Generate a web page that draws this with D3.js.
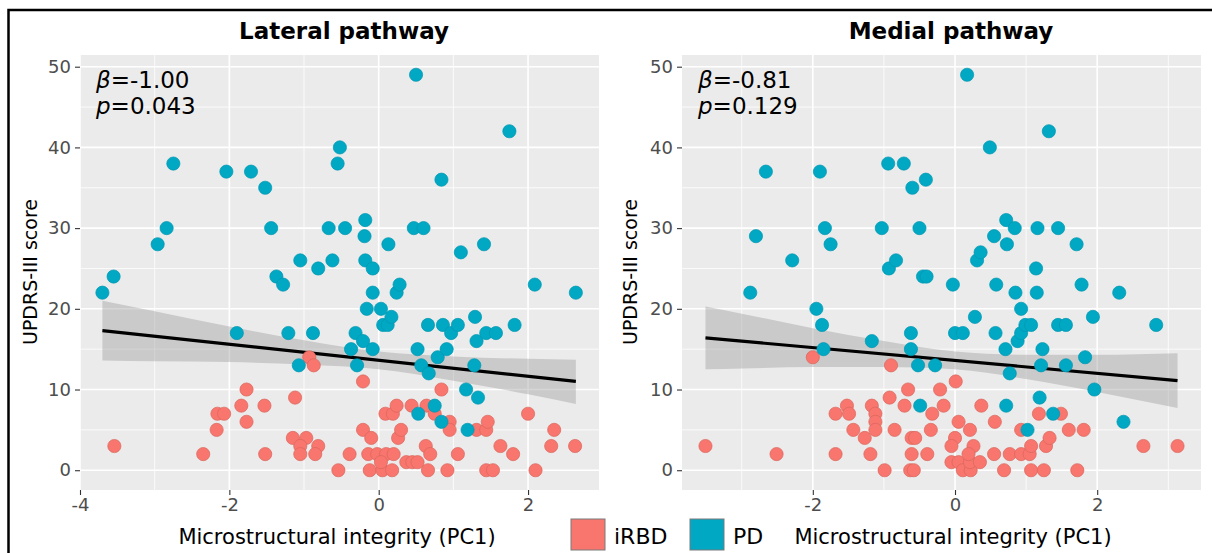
<!DOCTYPE html>
<html>
<head>
<meta charset="utf-8">
<script src="https://cdn.jsdelivr.net/npm/d3@7"></script>
<style>
  body { margin: 0; background: #fff; }
  svg { display: block; font-family: "DejaVu Sans", sans-serif; }
</style>
</head>
<body>
<svg id="chart" width="1212" height="553"></svg>
<script>
"use strict";

// points: [PC1, UPDRS-III]
const lateralIRBD = [
  [-3.54, 3], [-2.35, 2], [-2.17, 5], [-2.16, 7], [-2.07, 7], [-1.84, 8], [-1.77, 10], [-1.77, 6],
  [-1.53, 8], [-1.52, 2], [-1.12, 9], [-1.15, 4], [-0.97, 4], [-1.05, 3], [-0.81, 3], [-1.05, 2],
  [-0.85, 2], [-0.93, 14], [-0.87, 13], [-0.54, 0], [-0.39, 2], [-0.21, 11], [-0.21, 5], [-0.10, 4],
  [-0.14, 2], [-0.02, 2], [0.10, 2], [0.20, 2], [-0.12, 0], [0.05, 0], [0.18, 0], [0.03, 1],
  [0.09, 7], [0.19, 7], [0.24, 8], [0.26, 4], [0.30, 5], [0.37, 1], [0.45, 1], [0.52, 1],
  [0.44, 8], [0.64, 8], [0.63, 3], [0.69, 2], [0.66, 0], [0.75, 7], [0.84, 10], [0.92, 0],
  [0.95, 6], [0.95, 5], [1.06, 2], [1.31, 5], [1.44, 5], [1.46, 6], [1.44, 0], [1.53, 0],
  [1.63, 3], [1.80, 2], [2.00, 7], [2.10, 0], [2.31, 3], [2.35, 5], [2.63, 3]
];
const lateralPD = [
  [-3.70, 22], [-3.55, 24], [-2.96, 28], [-2.84, 30], [-2.75, 38], [-2.04, 37], [-1.71, 37], [-1.52, 35],
  [-1.44, 30], [-1.90, 17], [-1.37, 24], [-1.28, 23], [-1.21, 17], [-1.07, 13], [-1.05, 26], [-0.88, 17],
  [-0.81, 25], [-0.67, 30], [-0.62, 26], [-0.55, 38], [-0.52, 40], [-0.45, 30], [-0.37, 15], [-0.31, 17],
  [-0.29, 13], [-0.21, 16], [-0.19, 29], [-0.18, 31], [-0.18, 26], [-0.16, 20], [-0.08, 25], [-0.08, 22],
  [-0.08, 15], [0.03, 20], [0.06, 18], [0.12, 18], [0.13, 28], [0.17, 19], [0.24, 22], [0.28, 23],
  [0.47, 30], [0.50, 49], [0.52, 15], [0.53, 7], [0.57, 13], [0.60, 30], [0.66, 18], [0.67, 12],
  [0.75, 8], [0.79, 14], [0.84, 36], [0.84, 6], [0.86, 18], [0.91, 15], [0.97, 17], [1.06, 18],
  [1.10, 27], [1.17, 10], [1.19, 5], [1.28, 13], [1.29, 19], [1.31, 16], [1.33, 9], [1.41, 28],
  [1.44, 17], [1.57, 17], [1.75, 42], [1.82, 18], [2.09, 23], [2.64, 22]
];
const medialIRBD = [
  [-3.51, 3], [-2.51, 2], [-2.00, 14], [-1.68, 7], [-1.68, 2], [-1.52, 8], [-1.49, 7], [-1.43, 5],
  [-1.27, 4], [-1.19, 2], [-1.17, 8], [-1.12, 7], [-1.12, 6], [-1.12, 5], [-0.92, 9], [-0.90, 13],
  [-0.85, 5], [-0.71, 8], [-0.66, 10], [-0.61, 4], [-0.56, 4], [-0.61, 2], [-0.39, 2], [-0.99, 0],
  [-0.63, 0], [-0.58, 0], [-0.34, 5], [-0.32, 7], [-0.21, 10], [-0.16, 8], [0.01, 11], [0.05, 6],
  [0.00, 4], [-0.05, 3], [-0.05, 1], [0.05, 1], [0.11, 0], [0.22, 0], [0.21, 1], [0.35, 1],
  [0.26, 3], [0.21, 5], [0.19, 2], [0.37, 8], [0.55, 2], [0.56, 6], [0.69, 0], [0.77, 2],
  [0.93, 5], [0.93, 2], [1.05, 2], [1.07, 0], [1.07, 3], [1.28, 3], [1.33, 4], [1.18, 7],
  [1.49, 7], [1.25, 0], [1.60, 5], [1.81, 5], [1.72, 0], [2.65, 3], [3.13, 3]
];
const medialPD = [
  [-2.88, 22], [-2.80, 29], [-2.66, 37], [-2.29, 26], [-1.95, 20], [-1.90, 37], [-1.87, 18], [-1.85, 15],
  [-1.83, 30], [-1.75, 28], [-1.17, 16], [-1.03, 30], [-0.94, 38], [-0.93, 25], [-0.83, 26], [-0.72, 38],
  [-0.62, 17], [-0.62, 15], [-0.60, 35], [-0.52, 13], [-0.50, 30], [-0.49, 8], [-0.45, 24], [-0.40, 24],
  [-0.41, 36], [-0.28, 13], [-0.03, 23], [0.00, 17], [0.11, 17], [0.17, 49], [0.28, 19], [0.31, 26],
  [0.36, 27], [0.49, 40], [0.55, 29], [0.57, 17], [0.58, 23], [0.71, 15], [0.72, 31], [0.72, 8],
  [0.73, 28], [0.77, 12], [0.84, 30], [0.85, 22], [0.88, 16], [0.93, 20], [0.93, 17], [0.99, 18],
  [1.02, 5], [1.07, 18], [1.14, 25], [1.15, 22], [1.16, 30], [1.19, 9], [1.21, 13], [1.23, 15],
  [1.32, 42], [1.38, 7], [1.45, 30], [1.45, 18], [1.56, 18], [1.56, 13], [1.71, 28], [1.78, 23],
  [1.83, 14], [1.94, 19], [1.96, 10], [2.31, 22], [2.37, 6], [2.83, 18]
];

// regression fit with 95% band: [PC1, fit, lower, upper]
const lateralFit = [
  [-3.70, 17.3, 13.6, 21.0], [-3.0, 16.6, 13.5, 19.7], [-2.0, 15.6, 13.4, 17.8], [-1.0, 14.6, 13.1, 16.1],
  [0.0, 13.6, 12.5, 14.7], [1.0, 12.6, 11.1, 14.1], [2.0, 11.6, 9.4, 13.8], [2.64, 11.0, 8.2, 13.7]
];
const medialFit = [
  [-3.51, 16.4, 12.5, 20.3], [-3.0, 16.0, 12.6, 19.4], [-2.0, 15.2, 12.8, 17.6], [-1.0, 14.4, 12.8, 16.0],
  [0.0, 13.6, 12.5, 14.7], [1.0, 12.8, 11.3, 14.3], [2.0, 12.0, 9.7, 14.3], [3.13, 11.1, 7.7, 14.5]
];

const lateralStats = ["-1.00", "0.043"];
const medialStats = ["-0.81", "0.129"];

const yTicks = [0, 10, 20, 30, 40, 50];
const yMinor = [5, 15, 25, 35, 45];
const groups = ["iRBD", "PD"];
const colors = { iRBD: "#F8766D", PD: "#00A8C4" };
const strokes = { iRBD: "#d8655d", PD: "#0096b0" };

const svg = d3.select("#chart");
const panelW = 519;
const yTop = 55;
const yBottom = 490;

const panels = [
  { title: "Lateral pathway", irbd: lateralIRBD, pd: lateralPD, fit: lateralFit, stats: lateralStats,
    left: 80, xDomain: [-4.0, 2.95], xTicks: [-4, -2, 0, 2], xMinor: [-3, -1, 1],
    titleX: 344, xTitleX: 337, yTitleX: 30 },
  { title: "Medial pathway", irbd: medialIRBD, pd: medialPD, fit: medialFit, stats: medialStats,
    left: 682, xDomain: [-3.84, 3.46], xTicks: [-2, 0, 2], xMinor: [-3, -1, 1, 3],
    titleX: 951, xTitleX: 953, yTitleX: 630 }
];

// outer frame
svg.append("rect")
  .attr("x", 8.5).attr("y", 10)
  .attr("width", 1230).attr("height", 600)
  .attr("fill", "none").attr("stroke", "#000").attr("stroke-width", 2.5);

panels.forEach((p) => {
  const x = d3.scaleLinear().domain(p.xDomain).range([p.left, p.left + panelW]);
  const y = d3.scaleLinear().domain([-2.45, 51.45]).range([yBottom, yTop]);
  const g = svg.append("g");

  g.append("rect")
    .attr("x", p.left).attr("y", yTop)
    .attr("width", panelW).attr("height", yBottom - yTop)
    .attr("fill", "#ebebeb");

  // grid
  g.selectAll(".ymin").data(yMinor).enter().append("line")
    .attr("x1", p.left).attr("x2", p.left + panelW)
    .attr("y1", (d) => y(d)).attr("y2", (d) => y(d))
    .attr("stroke", "#fff").attr("stroke-width", 0.8);
  g.selectAll(".xmin").data(p.xMinor).enter().append("line")
    .attr("y1", yTop).attr("y2", yBottom)
    .attr("x1", (d) => x(d)).attr("x2", (d) => x(d))
    .attr("stroke", "#fff").attr("stroke-width", 0.8);
  g.selectAll(".ymaj").data(yTicks).enter().append("line")
    .attr("x1", p.left).attr("x2", p.left + panelW)
    .attr("y1", (d) => y(d)).attr("y2", (d) => y(d))
    .attr("stroke", "#fff").attr("stroke-width", 1.6);
  g.selectAll(".xmaj").data(p.xTicks).enter().append("line")
    .attr("y1", yTop).attr("y2", yBottom)
    .attr("x1", (d) => x(d)).attr("x2", (d) => x(d))
    .attr("stroke", "#fff").attr("stroke-width", 1.6);

  // confidence band + fit line
  const band = d3.area()
    .x((d) => x(d[0])).y0((d) => y(d[2])).y1((d) => y(d[3]))
    .curve(d3.curveMonotoneX);
  g.append("path").datum(p.fit)
    .attr("d", band).attr("fill", "#999").attr("fill-opacity", 0.4);

  const first = p.fit[0];
  const last = p.fit[p.fit.length - 1];
  g.append("line")
    .attr("x1", x(first[0])).attr("y1", y(first[1]))
    .attr("x2", x(last[0])).attr("y2", y(last[1]))
    .attr("stroke", "#000").attr("stroke-width", 3.2);

  // points
  [["iRBD", p.irbd], ["PD", p.pd]].forEach(([grp, pts]) => {
    g.selectAll(null).data(pts).enter().append("circle")
      .attr("cx", (d) => x(d[0])).attr("cy", (d) => y(d[1]))
      .attr("r", 6.6)
      .attr("fill", colors[grp])
      .attr("stroke", strokes[grp]).attr("stroke-width", 0.7);
  });

  // axes
  const yAxis = g.append("g")
    .attr("transform", `translate(${p.left},0)`)
    .call(d3.axisLeft(y).tickValues(yTicks).tickSize(5).tickPadding(4));
  const xAxis = g.append("g")
    .attr("transform", `translate(0,${yBottom})`)
    .call(d3.axisBottom(x).tickValues(p.xTicks).tickSize(5).tickPadding(3).tickFormat((d) => d));
  [yAxis, xAxis].forEach((a) => {
    a.select(".domain").remove();
    a.selectAll(".tick line").attr("stroke", "#333").attr("stroke-width", 1.1);
    a.selectAll(".tick text")
      .attr("fill", "#4d4d4d")
      .style("font-size", "18px")
      .style("font-family", "DejaVu Sans, sans-serif");
  });

  // titles
  g.append("text")
    .attr("x", p.titleX).attr("y", 39)
    .attr("text-anchor", "middle")
    .style("font-size", "23px").style("font-weight", "bold")
    .text(p.title);

  g.append("text")
    .attr("x", p.xTitleX).attr("y", 544)
    .attr("text-anchor", "middle")
    .style("font-size", "21px")
    .text("Microstructural integrity (PC1)");

  g.append("text")
    .attr("transform", `translate(${p.yTitleX},272) rotate(-90)`)
    .attr("text-anchor", "middle")
    .attr("dy", "0.35em")
    .style("font-size", "19px")
    .text("UPDRS-III score");

  // stats annotation
  const ann = g.append("text").style("font-size", "23px");
  const l1 = ann.append("tspan").attr("x", p.left + 16).attr("y", 88);
  l1.append("tspan").style("font-style", "italic").text("β");
  l1.append("tspan").text("=" + p.stats[0]);
  const l2 = ann.append("tspan").attr("x", p.left + 16).attr("y", 114);
  l2.append("tspan").style("font-style", "italic").text("p");
  l2.append("tspan").text("=" + p.stats[1]);
});

// legend
const legendX = [571, 690];
groups.forEach((grp, i) => {
  svg.append("rect")
    .attr("x", legendX[i]).attr("y", 519)
    .attr("width", 34).attr("height", 31)
    .attr("fill", colors[grp]).attr("stroke", "#7a7a7a").attr("stroke-width", 1);
  svg.append("text")
    .attr("x", legendX[i] + 43).attr("y", 544)
    .style("font-size", "22px")
    .text(grp);
});
</script>
</body>
</html>
